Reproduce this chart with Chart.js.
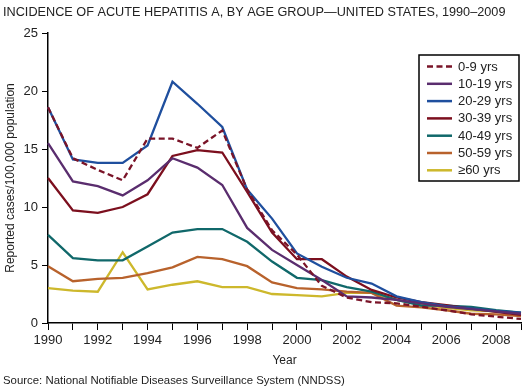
<!DOCTYPE html>
<html><head><meta charset="utf-8">
<script src="https://cdn.jsdelivr.net/npm/chart.js@4/dist/chart.umd.min.js"></script>
<style>html,body{margin:0;padding:0;background:#fff}</style>
</head><body>
<canvas id="c" width="524" height="390"></canvas>
<script>
const years = ['1990','1991','1992','1993','1994','1995','1996','1997','1998','1999','2000','2001','2002','2003','2004','2005','2006','2007','2008','2009'];
const seriesNames = ['0-9 yrs','10-19 yrs','20-29 yrs','30-39 yrs','40-49 yrs','50-59 yrs','\u226560 yrs'];
const age0_9   = [18.6,14.2,13.2,12.3,15.9,15.9,15.1,16.6,11.5,8.0,5.9,3.2,2.2,1.8,1.7,1.4,1.1,0.75,0.55,0.35];
const age10_19 = [15.5,12.2,11.8,11.0,12.3,14.2,13.4,11.9,8.2,6.3,5.0,3.7,2.3,2.2,2.0,1.7,1.4,1.2,1.0,0.8];
const age20_29 = [18.6,14.1,13.8,13.8,15.3,20.8,18.9,16.9,11.5,9.0,6.0,4.85,3.9,3.4,2.3,1.8,1.45,1.25,1.05,0.9];
const age30_39 = [12.5,9.7,9.5,10.0,11.1,14.4,14.9,14.7,11.3,7.8,5.5,5.5,4.0,2.85,2.2,1.8,1.55,1.25,0.97,0.7];
const age40_49 = [7.6,5.6,5.4,5.4,6.6,7.8,8.1,8.1,7.0,5.3,3.9,3.7,3.1,2.7,2.0,1.5,1.5,1.4,1.1,0.9];
const age50_59 = [4.9,3.6,3.8,3.9,4.3,4.8,5.7,5.5,4.9,3.5,3.0,2.9,2.7,2.6,1.5,1.35,1.1,0.8,0.75,0.6];
const age60    = [3.0,2.8,2.7,6.1,2.9,3.3,3.6,3.1,3.1,2.5,2.4,2.3,2.6,2.6,2.0,1.6,1.3,1.1,1.0,0.8];
const yTicks = [0,5,10,15,20,25];

const colors = ['#7a1428','#5a2d6e','#1f4f9e','#7c0f1e','#10686a','#b8622c','#cdb82c'];
const allData = [age0_9, age10_19, age20_29, age30_39, age40_49, age50_59, age60];
const FONT = "'Liberation Sans', Arial, Helvetica, sans-serif";

const datasets = allData.map((d, i) => ({
  label: seriesNames[i],
  data: d,
  borderColor: colors[i],
  backgroundColor: colors[i],
  borderWidth: 2.3,
  borderDash: i === 0 ? [6, 3.5] : [],
  pointRadius: 0,
  tension: 0,
  fill: false
}));

const legendBox = {
  id: 'legendBox',
  afterDraw(chart) {
    const ctx = chart.ctx;
    const x0 = 419, y0 = 55, w = 100, h = 126;
    ctx.save();
    ctx.fillStyle = '#fff';
    ctx.fillRect(x0, y0, w, h);
    ctx.strokeStyle = '#000';
    ctx.lineWidth = 1.5;
    ctx.strokeRect(x0, y0, w, h);
    ctx.font = '13px ' + FONT;
    ctx.textBaseline = 'middle';
    ctx.textAlign = 'left';
    chart.data.datasets.forEach((ds, i) => {
      const y = y0 + 11.5 + i * 17.3;
      ctx.strokeStyle = ds.borderColor;
      ctx.lineWidth = 2.5;
      ctx.setLineDash(ds.borderDash || []);
      ctx.beginPath();
      ctx.moveTo(427, y);
      ctx.lineTo(452, y);
      ctx.stroke();
      ctx.setLineDash([]);
      ctx.fillStyle = '#222';
      ctx.fillText(ds.label, 458, y + 0.5);
    });
    ctx.restore();
  }
};

new Chart(document.getElementById('c'), {
  type: 'line',
  data: { labels: years, datasets },
  options: {
    responsive: false,
    animation: false,
    layout: { padding: { left: 3, right: 1, top: 0, bottom: 0 } },
    plugins: {
      legend: { display: false },
      tooltip: { enabled: false },
      title: {
        display: true,
        text: 'INCIDENCE OF ACUTE HEPATITIS A, BY AGE GROUP\u2014UNITED STATES, 1990\u20132009',
        align: 'start',
        color: '#222',
        font: { family: FONT, size: 12.7, weight: 'normal' },
        padding: { top: 4.5, bottom: 13.26 }
      },
      subtitle: {
        display: true,
        position: 'bottom',
        text: 'Source: National Notifiable Diseases Surveillance System (NNDSS)',
        align: 'start',
        color: '#222',
        font: { family: FONT, size: 11.4, weight: 'normal' },
        padding: { top: 0, bottom: 2 }
      }
    },
    scales: {
      x: {
        type: 'category',
        offset: false,
        grid: { drawOnChartArea: false, drawTicks: true, tickLength: 7, color: '#000', lineWidth: 1 },
        border: { color: '#000', width: 1.5 },
        ticks: {
          autoSkip: false, maxRotation: 0, minRotation: 0,
          color: '#222', padding: 3,
          font: { family: FONT, size: 13 },
          callback: (v, i) => (i % 2 === 0 ? years[i] : '')
        },
        title: { display: true, text: 'Year', color: '#222', font: { family: FONT, size: 12 }, padding: { top: 0, bottom: 6 } },
        afterFit: s => { s.height = 51.3; }
      },
      y: {
        min: 0, max: 25,
        afterBuildTicks: s => { s.ticks = yTicks.map(v => ({ value: v })); },
        grid: { drawOnChartArea: false, drawTicks: true, tickLength: 6, color: '#000', lineWidth: 1 },
        border: { color: '#000', width: 1.5 },
        ticks: { color: '#222', padding: 4, font: { family: FONT, size: 13 } },
        title: { display: true, text: 'Reported cases/100,000 population', color: '#222', font: { family: FONT, size: 12 }, padding: { top: 0, bottom: 0 } },
        afterFit: s => { s.width = 45; }
      }
    }
  },
  plugins: [legendBox]
});
</script>
</body></html>
